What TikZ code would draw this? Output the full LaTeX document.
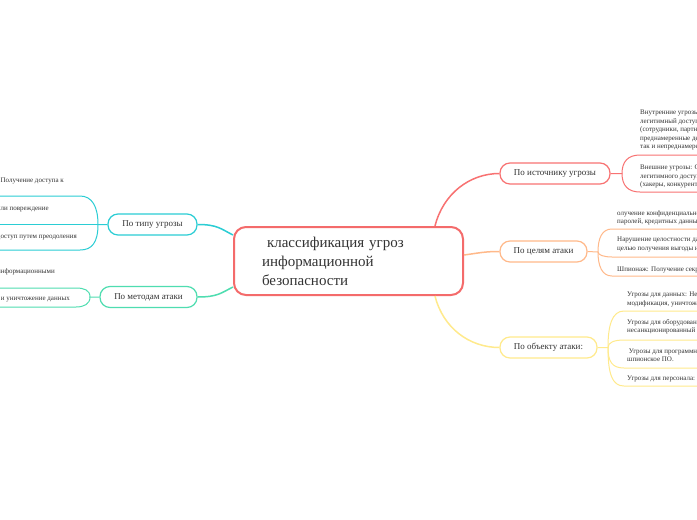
\documentclass[tikz,border=0pt]{standalone}
\usepackage{fontspec}
\setmainfont{Liberation Serif}

\definecolor{rootred}{HTML}{F46B6B}
\definecolor{srcred}{HTML}{F87272}
\definecolor{celorange}{HTML}{FFB98A}
\definecolor{objyellow}{HTML}{FFEA8C}
\definecolor{typcyan}{HTML}{2BCDD4}
\definecolor{metgreen}{HTML}{4FDDB0}
\definecolor{txt}{HTML}{333333}

\tikzset{
    root/.style={draw=rootred, line width=2pt, rounded corners=12pt, fill=white,
        minimum width=229pt, minimum height=68pt, text width=173pt, inner xsep=28pt,
        align=left, font=\fontsize{15}{19}\selectfont, text=txt},
    branch/.style={draw=#1, line width=1.2pt, rounded corners=10pt, fill=white,
        minimum height=21pt, inner sep=0pt, font=\fontsize{9}{11}\selectfont, text=txt},
    leaf/.style={inner sep=0pt, align=left, font=\fontsize{7}{8.5}\selectfont, text=txt},
    link/.style={draw=#1, line width=1.5pt},
    sub/.style={draw=#1, line width=1pt},
}

\begin{document}
\begin{tikzpicture}[x=1pt,y=-1pt]
        \useasboundingbox[fill=white] (0,0) rectangle (697,520);

        \node[root] (root) at (348.5,261) {\ классификация угроз\\информационной\\безопасности};

        \node[branch=srcred, minimum width=110pt] (src) at (555,173.5) {По источнику угрозы};
        \node[branch=celorange, minimum width=87pt] (cel) at (543.5,251.5) {По целям атаки};
        \node[branch=objyellow, minimum width=97pt] (obj) at (548.5,347.5) {По объекту атаки:};
        \node[branch=typcyan, minimum width=89pt] (typ) at (152.5,224.5) {По типу угрозы};
        \node[branch=metgreen, minimum width=97pt] (met) at (148.5,297) {По методам атаки};

        % root to branches
        \draw[link=srcred] ([xshift=-29pt]root.north east) .. controls +(8,-32) and +(-30,0) .. (src.west);
        \draw[link=celorange] ([yshift=6pt]root.east) .. controls +(15,-2) and +(-15,0) .. (cel.west);
        \draw[link=objyellow] ([xshift=-29pt]root.south east) .. controls +(8,32) and +(-30,0) .. (obj.west);
        \draw[link=typcyan] (typ.east) .. controls +(20,0) and +(-12,-6) .. ([yshift=26pt]root.west);
        \draw[link=metgreen] (met.east) .. controls +(20,0) and +(-12,6) .. ([yshift=-26pt]root.west);

        % по источнику
        \coordinate (srcf) at (622,173.5);
        \coordinate (s1) at (640,155);
        \coordinate (s2) at (640,192);
        \draw[sub=srcred] (src.east) -- (srcf) .. controls +(0,-12) and +(-12,0) .. (s1) -- ++(80,0);
        \draw[sub=srcred] (srcf) .. controls +(0,12) and +(-12,0) .. (s2) -- ++(80,0);
        \node[leaf, anchor=north west] (vnutr) at (640,110) {Внутренние угрозы: исходят от лиц, имеющих\\легитимный доступ к информационной системе\\(сотрудники, партнеры). Могут быть как\\преднамеренные действия,\\так и непреднамеренные ошибки.};
        \node[leaf, anchor=north west] (vnesh) at (640,164.7) {Внешние угрозы: Со стороны лиц, не имеющих\\легитимного доступа к системе\\(хакеры, конкуренты, злоумышленники).};

        % по целям
        \coordinate (celf) at (598,252);
        \coordinate (c1) at (612,229);
        \coordinate (c2) at (612,257);
        \coordinate (c3) at (612,276);
        \draw[sub=celorange] (cel.east) -- (celf) .. controls +(0,-14) and +(-10,0) .. (c1) -- ++(100,0);
        \draw[sub=celorange] (celf) .. controls +(0,3) and +(-8,0) .. (c2) -- ++(100,0);
        \draw[sub=celorange] (celf) .. controls +(0,14) and +(-10,0) .. (c3) -- ++(100,0);
        \node[leaf, anchor=north west] (krazha) at (617,210.3) {олучение конфиденциальной информации,\\паролей, кредитных данных.};
        \node[leaf, anchor=north west] (narush) at (617,237) {Нарушение целостности данных с\\целью получения выгоды или нанесения ущерба.};
        \node[leaf, anchor=north west] (shpion) at (617,266.3) {Шпионаж: Получение секретной информации.};

        % по объекту
        \coordinate (objf) at (608,347.5);
        \coordinate (o1) at (624,311);
        \coordinate (o2) at (624,340);
        \coordinate (o3) at (624,368);
        \coordinate (o4) at (624,386);
        \draw[sub=objyellow] (obj.east) -- (objf) .. controls +(0,-22) and +(-12,0) .. (o1) -- ++(90,0);
        \draw[sub=objyellow] (objf) .. controls +(0,-5) and +(-10,0) .. (o2) -- ++(90,0);
        \draw[sub=objyellow] (objf) .. controls +(0,14) and +(-12,0) .. (o3) -- ++(90,0);
        \draw[sub=objyellow] (objf) .. controls +(0,26) and +(-12,0) .. (o4) -- ++(90,0);
        \node[leaf, anchor=north west] (dannye) at (627,292) {Угрозы для данных: Несанкционированный доступ,\\модификация, уничтожение.};
        \node[leaf, anchor=north west] (oborud) at (627,319) {Угрозы для оборудования: физическое повреждение,\\несанкционированный доступ.};
        \node[leaf, anchor=north west] (progr) at (627,348) {\ Угрозы для программного обеспечения: вирусы,\\шпионское ПО.};
        \node[leaf, anchor=north west] (person) at (627,376) {Угрозы для персонала: социальная инженерия.};

        % по типу
        \coordinate (typf) at (98,224.5);
        \coordinate (t1) at (80,196);
        \coordinate (t3) at (80,250);
        \draw[sub=typcyan] (typ.west) -- (typf) .. controls +(0,-18) and +(12,0) .. (t1) -- ++(-90,0);
        \draw[sub=typcyan] (typf) -- ++(-110,0);
        \draw[sub=typcyan] (typf) .. controls +(0,18) and +(12,0) .. (t3) -- ++(-90,0);
        \node[leaf, anchor=east] (konf) at (64,181) {Угрозы конфиденциальности: Получение доступа к};
        \node[leaf, anchor=east] (tseln) at (49,209) {Угрозы целостности: изменение или повреждение};
        \node[leaf, anchor=east] (nsd) at (77,237) {Несанкционированный доступ путем преодоления};

        % по методам
        \coordinate (metf) at (90,297);
        \coordinate (m1) at (76,288);
        \coordinate (m2) at (76,307);
        \draw[sub=metgreen] (met.west) -- (metf) .. controls +(0,-7) and +(8,0) .. (m1) -- ++(-90,0);
        \draw[sub=metgreen] (metf) .. controls +(0,7) and +(8,0) .. (m2) -- ++(-90,0);
        \node[leaf, anchor=east] (manip) at (55,272) {Манипулирование информационными};
        \node[leaf, anchor=east] (modif) at (70,299) {Модификация и уничтожение данных};
\end{tikzpicture}
\end{document}
